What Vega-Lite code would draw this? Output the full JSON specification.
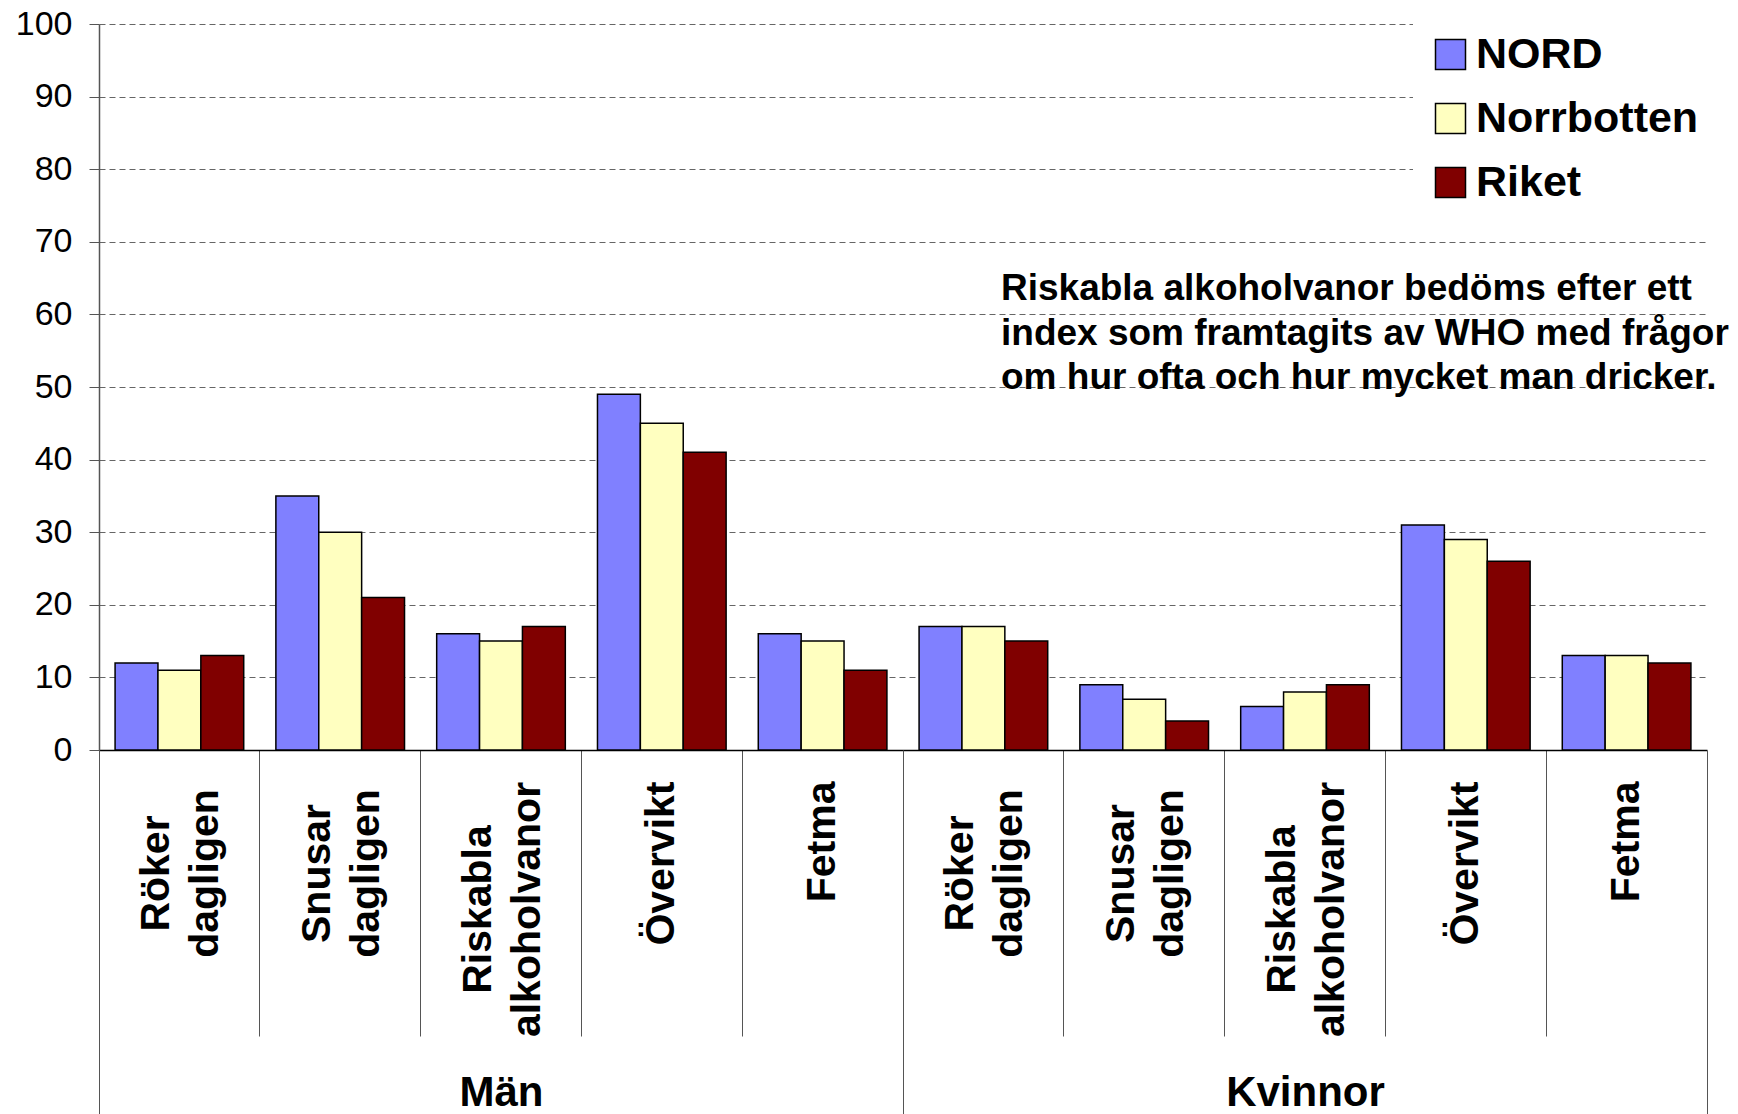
{
  "$schema": "https://vega.github.io/schema/vega-lite/v6.json",
  "width": 1608,
  "height": 726,
  "autosize": {"type": "none"},
  "padding": {"left": 99, "top": 24, "right": 31, "bottom": 364},
  "background": "white",
  "config": {"font": "Liberation Sans", "view": {"stroke": null}},
  "data": {"values": [
    {"group": "Män", "category": "Röker dagligen", "series": "NORD", "value": 12},
    {"group": "Män", "category": "Röker dagligen", "series": "Norrbotten", "value": 11},
    {"group": "Män", "category": "Röker dagligen", "series": "Riket", "value": 13},
    {"group": "Män", "category": "Snusar dagligen", "series": "NORD", "value": 35},
    {"group": "Män", "category": "Snusar dagligen", "series": "Norrbotten", "value": 30},
    {"group": "Män", "category": "Snusar dagligen", "series": "Riket", "value": 21},
    {"group": "Män", "category": "Riskabla alkoholvanor", "series": "NORD", "value": 16},
    {"group": "Män", "category": "Riskabla alkoholvanor", "series": "Norrbotten", "value": 15},
    {"group": "Män", "category": "Riskabla alkoholvanor", "series": "Riket", "value": 17},
    {"group": "Män", "category": "Övervikt", "series": "NORD", "value": 49},
    {"group": "Män", "category": "Övervikt", "series": "Norrbotten", "value": 45},
    {"group": "Män", "category": "Övervikt", "series": "Riket", "value": 41},
    {"group": "Män", "category": "Fetma", "series": "NORD", "value": 16},
    {"group": "Män", "category": "Fetma", "series": "Norrbotten", "value": 15},
    {"group": "Män", "category": "Fetma", "series": "Riket", "value": 11},
    {"group": "Kvinnor", "category": "Röker dagligen", "series": "NORD", "value": 17},
    {"group": "Kvinnor", "category": "Röker dagligen", "series": "Norrbotten", "value": 17},
    {"group": "Kvinnor", "category": "Röker dagligen", "series": "Riket", "value": 15},
    {"group": "Kvinnor", "category": "Snusar dagligen", "series": "NORD", "value": 9},
    {"group": "Kvinnor", "category": "Snusar dagligen", "series": "Norrbotten", "value": 7},
    {"group": "Kvinnor", "category": "Snusar dagligen", "series": "Riket", "value": 4},
    {"group": "Kvinnor", "category": "Riskabla alkoholvanor", "series": "NORD", "value": 6},
    {"group": "Kvinnor", "category": "Riskabla alkoholvanor", "series": "Norrbotten", "value": 8},
    {"group": "Kvinnor", "category": "Riskabla alkoholvanor", "series": "Riket", "value": 9},
    {"group": "Kvinnor", "category": "Övervikt", "series": "NORD", "value": 31},
    {"group": "Kvinnor", "category": "Övervikt", "series": "Norrbotten", "value": 29},
    {"group": "Kvinnor", "category": "Övervikt", "series": "Riket", "value": 26},
    {"group": "Kvinnor", "category": "Fetma", "series": "NORD", "value": 13},
    {"group": "Kvinnor", "category": "Fetma", "series": "Norrbotten", "value": 13},
    {"group": "Kvinnor", "category": "Fetma", "series": "Riket", "value": 12}
  ]},
  "transform": [{"calculate": "datum.group + '|' + datum.category", "as": "key"}],
  "layer": [
    {
      "mark": {"type": "bar", "stroke": "black", "strokeWidth": 1.5},
      "encoding": {
        "x": {
          "field": "key", "type": "nominal", "sort": null,
          "scale": {"paddingInner": 0, "paddingOuter": 0},
          "axis": {
            "title": null, "orient": "bottom", "bandPosition": 0,
            "ticks": true, "tickSize": 286, "tickColor": "#555", "tickWidth": 1,
            "domain": true, "domainColor": "black", "domainWidth": 1.5,
            "grid": false,
            "labelAngle": -90,
            "labelAlign": {"condition": {"test": "indexof(datum.value, ' ') >= 0", "value": "center"}, "value": "right"},
            "labelBaseline": "middle",
            "labelPadding": {"condition": [
              {"test": "indexof(datum.value, 'Riskabla') >= 0", "value": -127},
              {"test": "indexof(datum.value, 'dagligen') >= 0", "value": -163}
            ], "value": -255},
            "labelOffset": {"condition": {"test": "indexof(datum.value, ' ') >= 0", "value": -22}, "value": 0},
            "labelFontWeight": "bold", "labelFontSize": 41,
            "labelLineHeight": 49, "labelColor": "black", "labelLimit": 0,
            "labelOverlap": false,
            "labelExpr": "split(split(datum.value, '|')[1], ' ')"
          }
        },
        "xOffset": {
          "field": "series", "type": "nominal", "sort": ["NORD", "Norrbotten", "Riket"],
          "scale": {"paddingInner": 0, "paddingOuter": 0.375}
        },
        "y": {
          "field": "value", "type": "quantitative",
          "scale": {"domain": [0, 100], "nice": false},
          "axis": {
            "title": null, "values": [0, 10, 20, 30, 40, 50, 60, 70, 80, 90, 100],
            "domain": true, "domainColor": "#555", "domainWidth": 1.5,
            "ticks": true, "tickSize": 10, "tickColor": "#555",
            "labelFontSize": 34, "labelPadding": 17, "labelColor": "black",
            "grid": true, "gridColor": "#666", "gridDash": [6, 4], "gridWidth": 1
          }
        },
        "color": {
          "field": "series", "type": "nominal",
          "scale": {"domain": ["NORD", "Norrbotten", "Riket"], "range": ["#8080FF", "#FFFFC0", "#800000"]},
          "legend": {
            "title": null, "orient": "none", "legendX": 1314, "legendY": -7,
            "fillColor": "white", "padding": 16, "symbolType": "square",
            "symbolSize": 900, "symbolStrokeColor": "black", "symbolStrokeWidth": 1.5,
            "symbolOpacity": 1,
            "labelFontSize": 43, "labelFontWeight": "bold", "labelColor": "black",
            "rowPadding": 20, "labelOffset": 4, "zindex": 1, "labelLimit": 0
          }
        }
      }
    },
    {
      "mark": {"type": "point", "opacity": 0},
      "encoding": {
        "x": {
          "field": "group", "type": "nominal", "sort": ["Män", "Kvinnor"],
          "scale": {"paddingInner": 0, "paddingOuter": 0},
          "axis": {
            "title": null, "orient": "bottom", "ticks": false, "domain": false, "grid": false,
            "labelFontSize": 42, "labelFontWeight": "bold", "labelColor": "black",
            "labelPadding": 342, "labelBaseline": "middle", "labelAngle": 0
          }
        }
      }
    },
    {
      "data": {"values": [{"note": ["Riskabla alkoholvanor bedöms efter ett", "index som framtagits av WHO med frågor", "om hur ofta och hur mycket man dricker."]}]},
      "mark": {"type": "text", "align": "left", "baseline": "middle", "fontSize": 37, "fontWeight": "bold", "lineHeight": 44.5, "color": "black", "dx": 98, "dy": -25},
      "encoding": {
        "x": {
          "datum": 0.5, "type": "quantitative",
          "scale": {"domain": [0, 1], "nice": false, "zero": false},
          "axis": {
            "title": null, "orient": "bottom", "values": [0, 0.5, 1],
            "ticks": true, "tickSize": 364, "tickColor": "#555", "tickWidth": 1,
            "labels": false, "domain": false, "grid": false
          }
        },
        "y": {"datum": 60, "type": "quantitative"},
        "text": {"field": "note"}
      }
    }
  ],
  "resolve": {"scale": {"x": "independent"}}
}
